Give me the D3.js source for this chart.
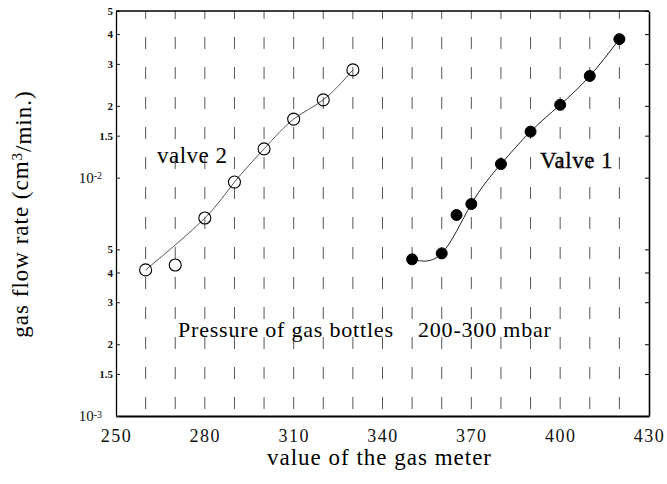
<!DOCTYPE html>
<html>
<head>
<meta charset="utf-8">
<script src="https://cdn.jsdelivr.net/npm/d3@7"></script>
<style>
  body { margin: 0; background: #fff; }
  svg { display: block; }
  svg text { font-family: 'Liberation Serif', 'Times New Roman', Times, 'DejaVu Serif', serif; }
</style>
</head>
<body>
<div id="chart"></div>
<script>
// values (flow in cm3/min)
const valve1Meter = [350, 360, 365, 370, 380, 390, 400, 410, 420],
      valve1Flow  = [0.00454, 0.00481, 0.00697, 0.00775, 0.0114, 0.0156, 0.0202, 0.0267, 0.0381],
      valve1OnFit = [true, true, false, true, true, true, true, true, true];

const valve2Meter = [260, 270, 280, 290, 300, 310, 320, 330],
      valve2Flow  = [0.00410, 0.00430, 0.00677, 0.00958, 0.0132, 0.0176, 0.0212, 0.0283],
      valve2OnFit = [true, false, true, true, true, true, true, true];

const xTickValues = [250, 280, 310, 340, 370, 400, 430],
      gridValues  = [260, 270, 280, 290, 300, 310, 320, 330, 340, 350, 360, 370, 380, 390, 400, 410, 420];

const yTickValues = [0.001, 0.0015, 0.002, 0.003, 0.004, 0.005, 0.01, 0.015, 0.02, 0.03, 0.04, 0.05],
      yTickLabels = ['10|-3', '1.5', '2', '3', '4', '5', '10|-2', '1.5', '2', '3', '4', '5'];

const serif = "'Liberation Serif', 'Times New Roman', Times, serif";

const margin = { top: 11, right: 18, bottom: 68, left: 116 },
      width = 667 - margin.left - margin.right,
      height = 484 - margin.top - margin.bottom;

const svg = d3.select('#chart').append('svg')
      .attr('width', width + margin.left + margin.right)
      .attr('height', height + margin.top + margin.bottom)
      .attr('font-family', serif);

const wrapper = svg.append('g')
      .attr('transform', 'translate(' + margin.left + ',' + margin.top + ')');

const xScale = d3.scaleLinear().domain([250, 430]).range([0, width]),
      yScale = d3.scaleLog().domain([0.001, 0.05]).range([height, 0]);

// dashed vertical grid
wrapper.append('g').selectAll('line')
    .data(gridValues)
  .enter().append('line')
    .attr('x1', d => xScale(d))
    .attr('x2', d => xScale(d))
    .attr('y1', 0)
    .attr('y2', height)
    .style('stroke', '#555')
    .style('stroke-width', 1)
    .style('stroke-dasharray', '12,18')
    .style('stroke-dashoffset', 4);

// x axis
const xAxis = wrapper.append('g')
    .attr('transform', 'translate(0,' + height + ')')
    .call(d3.axisBottom(xScale).tickValues(xTickValues).tickSize(0).tickPadding(13).tickFormat(d3.format('d')));
xAxis.attr('font-family', serif);
xAxis.select('.domain').style('stroke', '#000').style('stroke-width', 2);
xAxis.selectAll('text')
    .style('font-size', '18px')
    .style('letter-spacing', '1.5px')
    .style('fill', '#111');

// y axis (log)
const yAxis = wrapper.append('g')
    .call(d3.axisLeft(yScale).tickValues(yTickValues).tickSizeInner(-4).tickSizeOuter(0).tickPadding(3).tickFormat(''));
yAxis.attr('font-family', serif);
yAxis.select('.domain').style('stroke', '#000').style('stroke-width', 1.3);
yAxis.selectAll('.tick line').style('stroke', '#222');

yAxis.selectAll('.tick text').each(function(d, i) {
  const t = d3.select(this).text(null).style('fill', '#111');
  const parts = yTickLabels[i].split('|');
  if (parts.length > 1) {
    t.attr('x', -14).style('font-size', '15px');
    t.append('tspan').text(parts[0]);
    t.append('tspan').attr('dy', '-0.35em').style('font-size', '10px').text(parts[1]);
  } else {
    t.style('font-size', '11px').style('font-weight', 'bold').text(parts[0]);
  }
});

// right and top frame
const rAxis = wrapper.append('g')
    .attr('transform', 'translate(' + width + ',0)')
    .call(d3.axisRight(yScale).tickValues(yTickValues).tickSizeInner(-4).tickSizeOuter(0).tickFormat(''));
rAxis.select('.domain').style('stroke', '#000').style('stroke-width', 1.6);

wrapper.append('line')
    .attr('x1', 0).attr('x2', width)
    .attr('y1', 0).attr('y2', 0)
    .style('stroke', '#000')
    .style('stroke-width', 1.5);

// fitted curves
const line = d3.line()
    .x(d => xScale(d.x))
    .y(d => yScale(d.y))
    .curve(d3.curveNatural);

const series = [
  { x: valve1Meter, y: valve1Flow, fit: valve1OnFit, filled: true },
  { x: valve2Meter, y: valve2Flow, fit: valve2OnFit, filled: false }
];

series.forEach(s => {
  const pts = s.x.map((x, i) => ({ x: x, y: s.y[i], fit: s.fit[i] }));

  wrapper.append('path')
      .datum(pts.filter(d => d.fit))
      .attr('d', line)
      .style('fill', 'none')
      .style('stroke', s.filled ? '#222' : '#444')
      .style('stroke-width', s.filled ? 1 : 0.9);

  wrapper.append('g').selectAll('circle')
      .data(pts)
    .enter().append('circle')
      .attr('cx', d => xScale(d.x))
      .attr('cy', d => yScale(d.y))
      .attr('r', s.filled ? 5.5 : 6)
      .style('fill', s.filled ? '#000' : 'none')
      .style('stroke', '#000')
      .style('stroke-width', s.filled ? 1 : 1.1);
});

// annotations
svg.append('text')
    .attr('x', 157).attr('y', 163)
    .style('font-size', '23px')
    .style('letter-spacing', '0.5px')
    .text('valve 2');

svg.append('text')
    .attr('x', 540).attr('y', 168)
    .style('font-size', '23px')
    .style('letter-spacing', '0.5px')
    .style('stroke', '#000')
    .style('stroke-width', 0.3)
    .text('Valve 1');

svg.append('text')
    .attr('x', 178).attr('y', 337)
    .style('font-size', '22px')
    .style('letter-spacing', '0.8px')
    .text('Pressure of gas bottles');

svg.append('text')
    .attr('x', 418).attr('y', 337)
    .style('font-size', '22px')
    .style('letter-spacing', '0.8px')
    .text('200-300 mbar');

// axis titles
svg.append('text')
    .attr('x', margin.left + width / 2 - 3)
    .attr('y', 465)
    .attr('text-anchor', 'middle')
    .style('font-size', '23px')
    .style('letter-spacing', '1px')
    .text('value of the gas meter');

const yTitle = svg.append('text')
    .attr('transform', 'translate(28,214) rotate(-90)')
    .attr('text-anchor', 'middle')
    .style('font-size', '23px')
    .style('letter-spacing', '1px');
yTitle.append('tspan').text('gas flow rate (cm');
yTitle.append('tspan').attr('dy', '-0.4em').style('font-size', '15px').text('3');
yTitle.append('tspan').attr('dy', '0.4em').text('/min.)');
</script>
</body>
</html>
